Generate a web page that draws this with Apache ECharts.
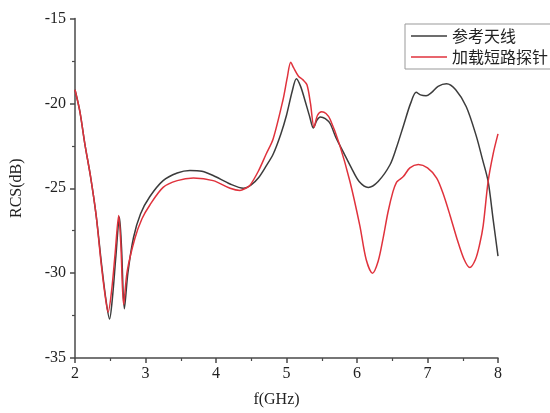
<!DOCTYPE html>
<html>
<head>
<meta charset="utf-8">
<script src="https://cdn.jsdelivr.net/npm/echarts@6/dist/echarts.min.js"></script>
<style>
  html, body { margin: 0; padding: 0; background: #fff; }
  #chart { width: 550px; height: 413px; }
</style>
</head>
<body>
<div id="chart"></div>
<script>
// Frequency (GHz) and RCS (dB) samples for the two antennas
const refFreq = [2.0, 2.07, 2.14, 2.22, 2.3, 2.38, 2.44, 2.49, 2.53, 2.58, 2.63, 2.66, 2.70, 2.75, 2.83, 2.93, 3.06, 3.25, 3.45, 3.63, 3.8, 3.96, 4.2, 4.39, 4.5, 4.6, 4.71, 4.81, 4.92, 5.0, 5.08, 5.14, 5.2, 5.26, 5.33, 5.38, 5.43, 5.48, 5.55, 5.62, 5.7, 5.81, 5.92, 6.03, 6.16, 6.3, 6.47, 6.56, 6.66, 6.76, 6.84, 6.9, 6.98, 7.06, 7.15, 7.27, 7.4, 7.55, 7.69, 7.78, 7.86, 7.93, 8.0];
const refRcs = [-19.2, -20.5, -22.4, -24.3, -26.6, -29.6, -31.6, -32.7, -31.5, -29.0, -26.7, -28.5, -32.1, -30.0, -27.9, -26.5, -25.5, -24.55, -24.1, -23.95, -24.0, -24.25, -24.75, -25.0, -24.8, -24.4, -23.7, -23.0, -21.8, -20.7, -19.3, -18.55, -19.0, -19.8, -20.8, -21.45, -21.0, -20.8, -20.9, -21.2, -22.0, -22.9, -23.8, -24.6, -24.95, -24.6, -23.6, -22.6, -21.3, -20.0, -19.35, -19.5, -19.55, -19.35, -19.0, -18.85, -19.2, -20.2, -21.9, -23.3, -24.6, -26.8, -29.0];

const probeFreq = [2.0, 2.07, 2.14, 2.22, 2.3, 2.37, 2.43, 2.47, 2.52, 2.57, 2.62, 2.65, 2.69, 2.74, 2.85, 2.95, 3.06, 3.25, 3.45, 3.68, 3.96, 4.2, 4.34, 4.42, 4.48, 4.6, 4.71, 4.81, 4.95, 5.01, 5.06, 5.1, 5.17, 5.23, 5.29, 5.34, 5.39, 5.44, 5.5, 5.56, 5.62, 5.75, 5.9, 6.04, 6.13, 6.22, 6.3, 6.37, 6.44, 6.51, 6.56, 6.6, 6.66, 6.75, 6.87, 7.0, 7.13, 7.22, 7.32, 7.42, 7.52, 7.6, 7.68, 7.74, 7.79, 7.86, 7.93, 8.0];
const probeRcs = [-19.2, -20.5, -22.4, -24.3, -26.6, -29.4, -31.4, -32.3, -31.0, -28.8, -26.6, -28.3, -31.85, -29.9, -27.95, -26.8, -26.0, -24.95, -24.55, -24.4, -24.55, -25.0, -25.13, -25.0, -24.84, -24.0, -23.0, -22.1, -19.8, -18.5, -17.58, -17.9, -18.4, -18.6, -18.9, -20.0, -21.4, -20.7, -20.5, -20.6, -20.95, -22.4, -24.6, -27.2, -29.2, -30.0, -29.3, -27.95, -26.4, -25.2, -24.65, -24.5, -24.3, -23.8, -23.6, -23.8, -24.4, -25.3, -26.6, -28.0, -29.2, -29.67, -29.2, -28.3, -27.2, -24.6, -23.0, -21.8];

const seriesNames = ['参考天线', '加载短路探针'];
const xTicks = { min: 2, max: 8, interval: 1 };
const yTicks = { min: -35, max: -15, interval: 5 };

const zip = (xs, ys) => xs.map((x, i) => [x, ys[i]]);

const serif = '"Liberation Serif", "Times New Roman", serif';
const axisColor = '#4a4a4a';

const chart = echarts.init(document.getElementById('chart'));
chart.setOption({
  animation: false,
  backgroundColor: '#fff',
  grid: { left: 75, right: 52, top: 18.5, bottom: 52.5 },
  legend: {
    orient: 'vertical',
    left: 405,
    top: 24,
    padding: [3, 4, 3, 6],
    itemGap: 3,
    itemWidth: 36,
    itemHeight: 1.5,
    icon: 'rect',
    borderColor: '#999',
    borderWidth: 1,
    backgroundColor: '#fff',
    textStyle: { fontFamily: '"Noto Sans CJK SC", sans-serif', fontSize: 16, color: '#222', lineHeight: 18 },
    data: seriesNames
  },
  xAxis: {
    type: 'value',
    min: xTicks.min, max: xTicks.max, interval: xTicks.interval,
    name: 'f(GHz)',
    nameLocation: 'middle',
    nameGap: 34,
    nameTextStyle: { fontFamily: serif, fontSize: 16, color: '#222', padding: [0, 20, 0, 0] },
    axisLine: { lineStyle: { color: axisColor, width: 1.5 } },
    axisTick: { inside: false, length: 5, lineStyle: { color: axisColor, width: 1.5 } },
    minorTick: { show: true, splitNumber: 2, length: 3, lineStyle: { color: axisColor, width: 1.2 } },
    axisLabel: { fontFamily: serif, fontSize: 16, color: '#222', margin: 8 },
    splitLine: { show: false }
  },
  yAxis: {
    type: 'value',
    min: yTicks.min, max: yTicks.max, interval: yTicks.interval,
    name: 'RCS(dB)',
    nameLocation: 'middle',
    nameGap: 50,
    nameTextStyle: { fontFamily: serif, fontSize: 16, color: '#222' },
    axisLine: { show: true, lineStyle: { color: axisColor, width: 1.5 } },
    axisTick: { show: true, inside: false, length: 5, lineStyle: { color: axisColor, width: 1.5 } },
    minorTick: { show: true, splitNumber: 2, length: 3, lineStyle: { color: axisColor, width: 1.2 } },
    axisLabel: { fontFamily: serif, fontSize: 16, color: '#222', margin: 9 },
    splitLine: { show: false }
  },
  series: [
    {
      name: seriesNames[0],
      type: 'line',
      data: zip(refFreq, refRcs),
      smooth: 0.3,
      symbol: 'none',
      lineStyle: { color: '#3c3c3c', width: 1.5 },
      itemStyle: { color: '#3c3c3c' },
      z: 2
    },
    {
      name: seriesNames[1],
      type: 'line',
      data: zip(probeFreq, probeRcs),
      smooth: 0.3,
      symbol: 'none',
      lineStyle: { color: '#e0323c', width: 1.5 },
      itemStyle: { color: '#e0323c' },
      z: 3
    }
  ]
});
</script>
</body>
</html>
